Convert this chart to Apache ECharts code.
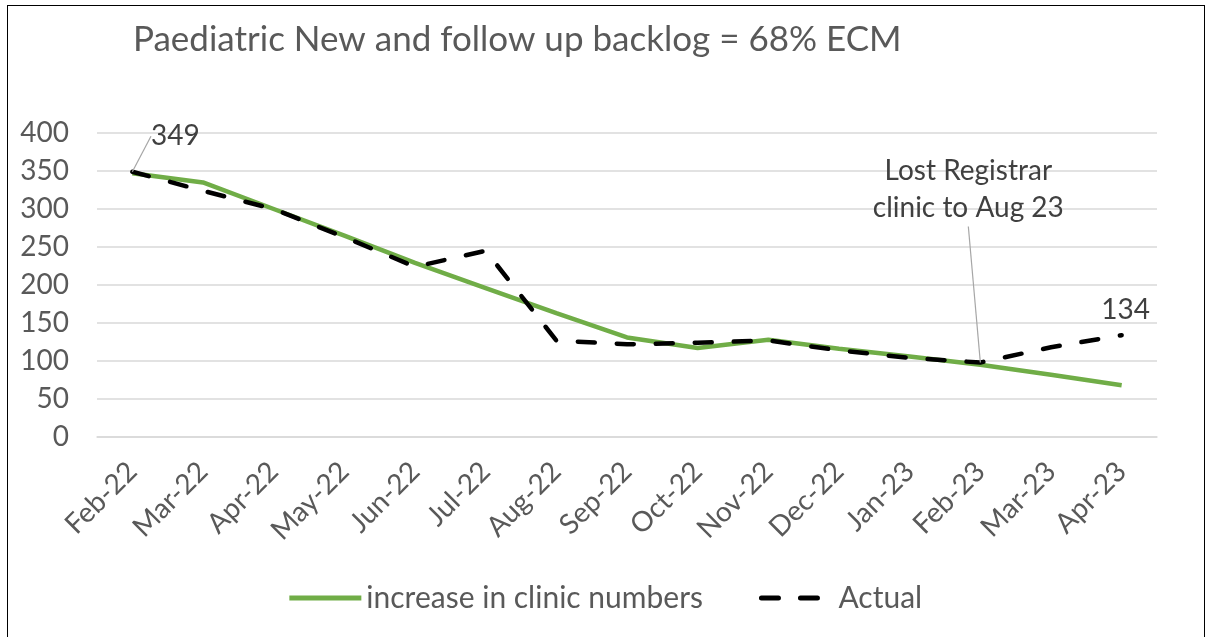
<!DOCTYPE html>
<html>
<head>
<meta charset="utf-8">
<script src="https://cdn.jsdelivr.net/npm/echarts@6/dist/echarts.min.js"></script>
<style>
  html, body { margin: 0; padding: 0; background: #fff; }
  #frame { position: absolute; left: 7px; top: 5px; width: 1198px; height: 640px; border: 1px solid #000; box-sizing: border-box; }
  #content { position: absolute; left: 0; top: 0; width: 1209px; height: 637px; }
</style>
</head>
<body>
<div id="frame"></div>
<div id="content"></div>
<script>
// 数据
var months = ['Feb-22', 'Mar-22', 'Apr-22', 'May-22', 'Jun-22', 'Jul-22', 'Aug-22', 'Sep-22',
              'Oct-22', 'Nov-22', 'Dec-22', 'Jan-23', 'Feb-23', 'Mar-23', 'Apr-23'];
var clinicNumbers = [347, 335, 300, 265, 229, 196, 163, 131, 117, 128, 116, 106, 95, 82, 68];
var actual = [349, 324, 300, 263, 224, 245, 127, 122, 124, 127, 114, 104, 98, 118, 134];
var yTicks = { min: 0, max: 400, interval: 50 };

// 哪些点有标签，是否画引线
var notes = {
    0: '349',
    12: 'Lost Registrar\nclinic to Aug 23',
    14: '134'
};
var noteLines = { 0: true, 12: true, 14: false };

var actualData = actual.map(function (v, i) {
    if (notes[i] === undefined) return v;
    return {
        value: v,
        label: {
            show: true,
            position: 'top',
            formatter: notes[i],
            fontSize: 28,
            lineHeight: 37,
            color: '#404040',
            fontFamily: 'Lato'
        },
        labelLine: { show: noteLines[i] }
    };
});

var option = {
    animation: false,
    backgroundColor: 'transparent',
    title: {
        text: 'Paediatric New and follow up backlog = 68% ECM',
        left: 128,
        top: 17,
        textStyle: {
            fontSize: 35,
            fontWeight: 'normal',
            color: '#595959',
            fontFamily: 'Lato'
        }
    },
    grid: {
        left: 97,
        right: 52,
        top: 133,
        bottom: 200
    },
    legend: {
        bottom: 19,
        left: 'center',
        itemWidth: 72,
        itemHeight: 8,
        itemGap: 56,
        textStyle: {
            fontSize: 30,
            color: '#595959',
            fontFamily: 'Lato'
        },
        data: [
            { name: 'increase in clinic numbers', itemStyle: { opacity: 0 }, lineStyle: { width: 5 } },
            { name: 'Actual', itemStyle: { opacity: 0 }, lineStyle: { width: 5 } }
        ]
    },
    xAxis: {
        type: 'category',
        data: months,
        boundaryGap: true,
        axisLine: { show: true, lineStyle: { color: '#d9d9d9', width: 1.5 } },
        axisTick: { show: false },
        axisLabel: {
            rotate: 45,
            fontSize: 28,
            color: '#595959',
            fontFamily: 'Lato',
            margin: 30,
            interval: 0
        }
    },
    yAxis: {
        type: 'value',
        min: yTicks.min,
        max: yTicks.max,
        interval: yTicks.interval,
        axisLine: { show: false },
        axisTick: { show: false },
        splitLine: { lineStyle: { color: '#d9d9d9', width: 1.5 } },
        axisLabel: {
            fontSize: 28,
            color: '#595959',
            fontFamily: 'Lato',
            margin: 28
        }
    },
    series: [{
        name: 'increase in clinic numbers',
        type: 'line',
        data: clinicNumbers,
        symbol: 'none',
        z: 2,
        lineStyle: { color: '#70ad47', width: 4.5 },
        itemStyle: { color: '#70ad47' }
    }, {
        name: 'Actual',
        type: 'line',
        data: actualData,
        symbol: 'circle',
        symbolSize: 0.01,
        showSymbol: true,
        z: 3,
        lineStyle: { color: '#000', width: 4.5, type: [17, 22], cap: 'round' },
        itemStyle: { color: '#000' },
        labelLine: {
            show: true,
            lineStyle: { color: '#a6a6a6', width: 1.2 }
        },
        labelLayout: function (params) {
            if (params.dataIndex === 0) return { dx: 43, dy: -12 };
            if (params.dataIndex === 12) return { dx: -12, dy: -131 };
            if (params.dataIndex === 14) return { dx: 4, dy: -2 };
            return {};
        }
    }]
};

var myChart = echarts.init(document.getElementById('content'));
myChart.setOption(option);
</script>
</body>
</html>
